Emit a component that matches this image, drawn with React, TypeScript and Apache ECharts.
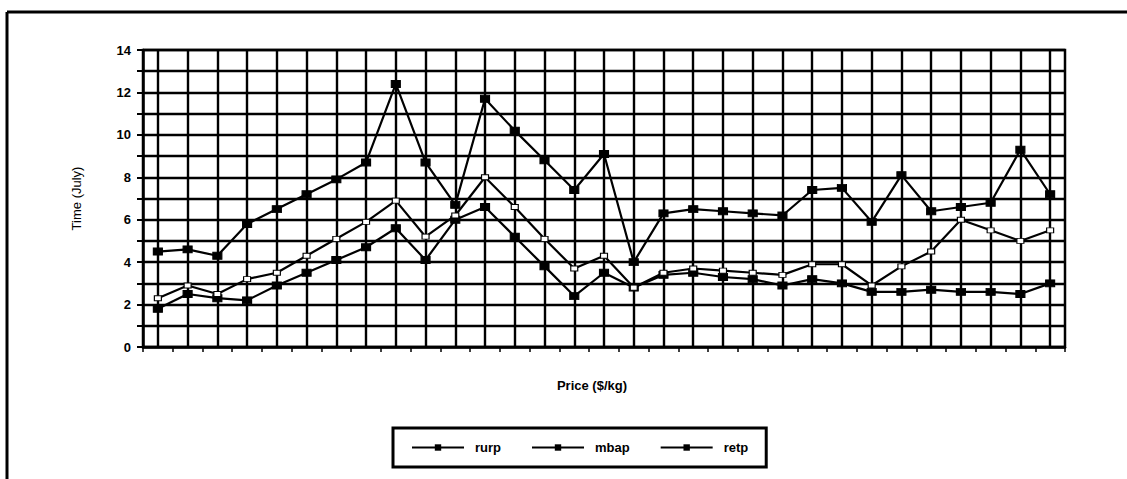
import React, { useEffect, useRef } from "react";
import * as echarts from "echarts";

const categories: string[] = Array.from({ length: 31 }, (_, i) => String(i + 1));

const rurp: number[] = [1.8, 2.5, 2.3, 2.2, 2.9, 3.5, 4.1, 4.7, 5.6, 4.1, 6.0, 6.6, 5.2, 3.8, 2.4, 3.5, 2.8, 3.4, 3.5, 3.3, 3.2, 2.9, 3.2, 3.0, 2.6, 2.6, 2.7, 2.6, 2.6, 2.5, 3.0];
const mbap: number[] = [2.3, 2.9, 2.5, 3.2, 3.5, 4.3, 5.1, 5.9, 6.9, 5.2, 6.2, 8.0, 6.6, 5.1, 3.7, 4.3, 2.8, 3.5, 3.7, 3.6, 3.5, 3.4, 3.9, 3.9, 2.9, 3.8, 4.5, 6.0, 5.5, 5.0, 5.5];
const retp: number[] = [4.5, 4.6, 4.3, 5.8, 6.5, 7.2, 7.9, 8.7, 12.4, 8.7, 6.7, 11.7, 10.2, 8.8, 7.4, 9.1, 4.0, 6.3, 6.5, 6.4, 6.3, 6.2, 7.4, 7.5, 5.9, 8.1, 6.4, 6.6, 6.8, 9.3, 7.2];

const seriesNames: string[] = ["rurp", "mbap", "retp"];
const yTicks: number[] = [0, 2, 4, 6, 8, 10, 12, 14];

export default function App() {
  const ref = useRef<HTMLDivElement>(null);

  useEffect(() => {
    if (!ref.current) return;
    const chart = echarts.init(ref.current, null, { renderer: "svg" });
    const font = "Liberation Sans, Arial, sans-serif";
    const mkSeries = (name: string, data: number[], hollow: boolean) => ({
      name,
      type: "line",
      data,
      symbol: "rect",
      symbolSize: hollow ? [7, 5] : [9, 7],
      lineStyle: { color: "#000", width: 2.2 },
      itemStyle: hollow
        ? { color: "#fff", borderColor: "#000", borderWidth: 1 }
        : { color: "#000", borderColor: "#000" },
      emphasis: { disabled: true },
    });
    const legendMark = { color: "#000", borderColor: "#000", borderWidth: 0 };
    chart.setOption({
      animation: false,
      backgroundColor: "#fff",
      textStyle: { fontFamily: font },
      grid: {
        left: 143,
        right: 62,
        top: 50,
        bottom: 132,
        show: true,
        borderColor: "#000",
        borderWidth: 2.5,
        containLabel: false,
      },
      xAxis: {
        type: "category",
        data: categories,
        boundaryGap: true,
        name: "Price ($/kg)",
        nameLocation: "middle",
        nameGap: 32,
        nameTextStyle: { color: "#000", fontSize: 13, fontWeight: "bold", fontFamily: font, padding: [0, 24, 0, 0] },
        axisLine: { show: true, lineStyle: { color: "#000", width: 2.5 } },
        axisTick: { show: true, length: 5, lineStyle: { color: "#000", width: 1.5 } },
        axisLabel: { show: false },
        splitLine: { show: true, alignWithLabel: true, interval: 0, lineStyle: { color: "#000", width: 2.4 } },
      },
      yAxis: {
        type: "value",
        min: 0,
        max: 14,
        interval: 1,
        name: "Time (July)",
        nameLocation: "middle",
        nameGap: 60,
        nameTextStyle: { color: "#000", fontSize: 13, fontFamily: font },
        axisLine: { show: true, lineStyle: { color: "#000", width: 2.5 } },
        axisTick: { show: true, length: 6, lineStyle: { color: "#000", width: 2 } },
        axisLabel: {
          color: "#000",
          fontSize: 13,
          fontWeight: "bold",
          fontFamily: font,
          margin: 12,
          formatter: (v: number) => (yTicks.indexOf(v) >= 0 ? String(v) : ""),
        },
        splitLine: { show: true, lineStyle: { color: "#000", width: 2.4 } },
      },
      legend: {
        data: seriesNames.map((n) => ({ name: n, itemStyle: legendMark })),
        left: 393,
        top: 428,
        orient: "horizontal",
        itemWidth: 52,
        itemHeight: 8,
        itemGap: 30,
        padding: [13, 18, 13, 18],
        borderColor: "#000",
        borderWidth: 3,
        textStyle: { color: "#000", fontSize: 13, fontWeight: "bold", fontFamily: font, padding: [0, 0, 0, 6] },
        selectedMode: false,
      },
      graphic: [
        { type: "line", shape: { x1: 7, y1: 12, x2: 1127, y2: 12 }, style: { stroke: "#000", lineWidth: 3 } },
        { type: "line", shape: { x1: 7, y1: 12, x2: 7, y2: 479 }, style: { stroke: "#000", lineWidth: 3 } },
      ],
      series: [
        mkSeries("rurp", rurp, false),
        mkSeries("mbap", mbap, true),
        mkSeries("retp", retp, false),
      ],
    });
    return () => chart.dispose();
  }, []);

  return (
    <div
      ref={ref}
      style={{ position: "fixed", left: 0, top: 0, width: 1127, height: 479, background: "#fff" }}
    />
  );
}
